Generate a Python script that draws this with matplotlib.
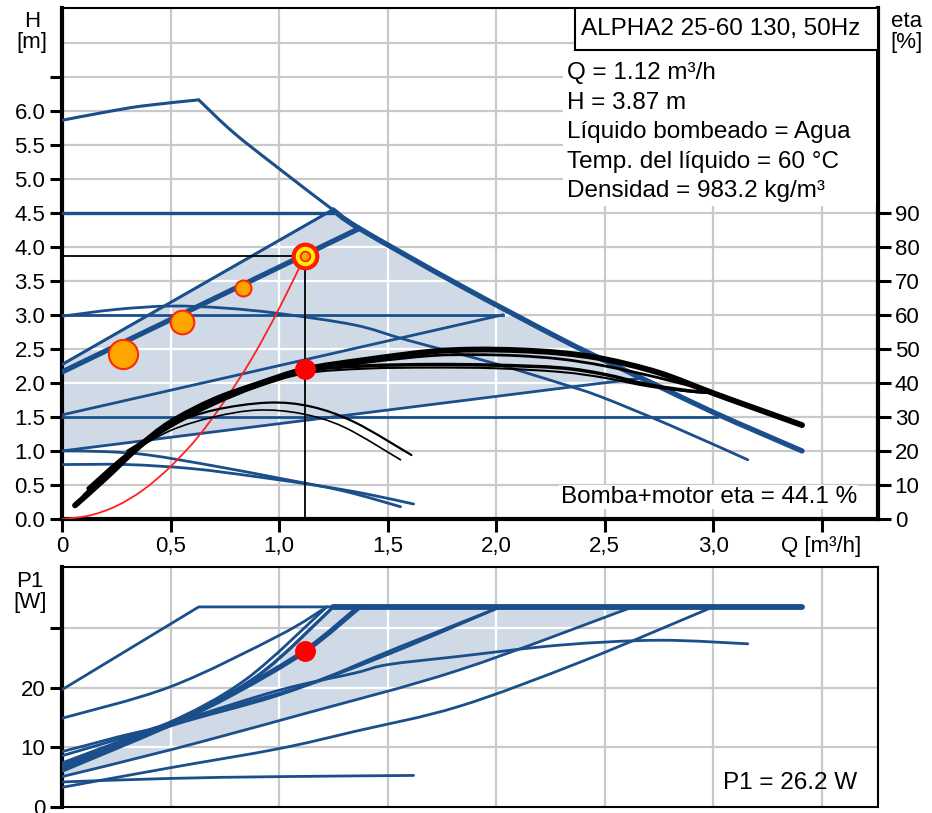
import numpy as np
import matplotlib
matplotlib.use("Agg")
import matplotlib.pyplot as plt
from matplotlib.patches import Rectangle, PathPatch
from matplotlib.path import Path

plt.rcParams['font.family'] = ['Liberation Sans', 'DejaVu Sans']

# ---------------- data (Q in m3/h, H in m, eta in %, P1 in W) ----------------
# constant pressure lines
cp_levels = [4.5, 3.0, 1.5]
cp_ends = [1.25, 2.03, 3.02]
# proportional pressure lines
pp3_q = [0.0, 1.25]
pp3_h = [2.27, 4.55]
op_q = [0.0, 1.37]
op_h = [2.16, 4.27]
pp2_q = [0.0, 2.03]
pp2_h = [1.53, 3.0]
pp1_q = [0.0, 2.67]
pp1_h = [1.0, 2.07]
# speed curves
maxa_q = [0.0, 0.2, 0.37, 0.63]
maxa_h = [5.86, 5.98, 6.07, 6.16]
maxb_q = [0.63, 0.79, 1.0, 1.25, 1.37, 1.83, 2.29, 2.5, 2.75, 3.0, 3.2, 3.41]
maxb_h = [6.16, 5.68, 5.15, 4.54, 4.27, 3.44, 2.66, 2.33, 1.95, 1.57, 1.29, 1.0]
s2_q = [0.0, 0.25, 0.5, 0.75, 1.0, 1.35, 1.59, 2.0, 2.29, 2.48, 2.8, 3.16]
s2_h = [2.98, 3.08, 3.13, 3.1, 3.02, 2.85, 2.63, 2.28, 2.0, 1.8, 1.38, 0.87]
s1a_q = [0.0, 0.3, 0.6, 0.9, 1.2, 1.4, 1.62]
s1a_h = [0.8, 0.8, 0.74, 0.62, 0.48, 0.37, 0.22]
s1b_q = [0.0, 0.2, 0.4, 0.7, 1.0, 1.3, 1.56]
s1b_h = [1.0, 0.99, 0.94, 0.78, 0.6, 0.41, 0.18]
# efficiency curves
e1_q = [0.06, 0.2, 0.35, 0.5, 0.7, 0.9, 1.12, 1.4, 1.7, 1.9, 2.1, 2.3, 2.5, 2.75, 3.0, 3.2, 3.41]
e1_eta = [4, 12, 21, 28.4, 35, 39.6, 44, 46.8, 49.2, 49.8, 49.6, 48.8, 47, 43, 37, 32.4, 27.6]
e2_q = [0.1, 0.3, 0.5, 0.7, 0.9, 1.12, 1.4, 1.7, 1.9, 2.1, 2.3, 2.5, 2.75, 3.0]
e2_eta = [7, 19, 27.8, 34.6, 39.4, 43.2, 46, 48, 48.3, 48, 47, 45, 41.5, 37.4]
e3_q = [0.12, 0.3, 0.5, 0.7, 0.9, 1.12, 1.4, 1.7, 2.0, 2.3, 2.5, 2.7, 2.9, 3.0]
e3_eta = [9, 19, 27.4, 34, 39.2, 43.6, 45, 45.4, 45.2, 44.4, 42.5, 39.5, 37.6, 37.2]
e4_q = [0.15, 0.3, 0.5, 0.7, 0.9, 1.12, 1.4, 1.7, 2.0, 2.3, 2.5, 2.7, 2.9, 3.0]
e4_eta = [10, 18.5, 27, 33.6, 38.8, 42.8, 44.2, 44.5, 44.3, 43.2, 41.5, 39, 37.4, 37]
e5_q = [0.3, 0.5, 0.7, 0.95, 1.15, 1.35, 1.61]
e5_eta = [20, 27.6, 32, 34.2, 33, 28.4, 18.8]
e6_q = [0.3, 0.5, 0.7, 0.9, 1.1, 1.3, 1.56]
e6_eta = [19, 26, 30, 32, 31, 27, 17.4]
# system curve
sys_q = [0.0, 0.125, 0.25, 0.375, 0.5, 0.625, 0.75, 0.875, 1.0, 1.12]
sys_h = [0.0, 0.05, 0.19, 0.43, 0.77, 1.2, 1.74, 2.36, 3.09, 3.87]
# duty points
duty_q = 1.12
duty_h = 3.87
duty_eta = 44.1
duty_p1 = 26.2
dots_q = [0.28, 0.555, 0.834]
dots_h = [2.43, 2.89, 3.39]
# power curves
p_max_q = [0.0, 0.63, 3.41]
p_max_w = [19.7, 33.6, 33.6]
p_b_q = [0.0, 0.5, 1.0, 1.22]
p_b_w = [14.9, 20.2, 28.8, 33.6]
p_s3_q = [0.0, 0.25, 0.5, 0.85, 1.22]
p_s3_w = [9.3, 11.7, 14.3, 21.5, 33.6]
p_pp3_q = [0.0, 0.5, 0.9, 1.25]
p_pp3_w = [6.8, 14.1, 22.0, 33.6]
p_op_q = [0.0, 0.5, 0.8, 1.12, 1.37]
p_op_w = [6.2, 13.9, 19.3, 26.2, 33.6]
p_pp2_q = [0.0, 0.5, 1.1, 1.55, 2.02]
p_pp2_w = [7.4, 14.0, 20.2, 26.8, 33.6]
p_x_q = [0.0, 0.5, 1.0, 1.5, 2.02]
p_x_w = [7.0, 13.6, 18.8, 25.6, 33.6]
p_c_q = [0.0, 0.5, 1.0, 1.35, 1.5, 1.83, 2.3, 2.75, 3.16]
p_c_w = [8.6, 14.0, 19.6, 22.5, 23.9, 25.3, 27.2, 28.0, 27.4]
p_pp1_q = [0.0, 0.5, 1.1, 1.83, 2.63]
p_pp1_w = [5.1, 9.6, 15.5, 23.0, 33.6]
p_s2_q = [0.0, 0.5, 1.0, 1.35, 1.83, 2.4, 3.0]
p_s2_w = [3.3, 6.6, 9.8, 12.7, 16.9, 24.5, 33.6]
p_min_q = [0.0, 0.5, 1.0, 1.62]
p_min_w = [4.2, 4.8, 5.1, 5.3]

BLUE = '#1a4f8b'
FILL = '#cfdae6'
GRID = '#c9c9c9'
FS = 16
TFS = 17.5


def smooth(a, xs, ys, zorder=3, **kw):
    """Draw a smooth (Catmull-Rom as cubic Bezier) line through the points."""
    p = np.column_stack([xs, ys]).astype(float)
    n = len(p)
    if n < 3:
        a.plot(xs, ys, zorder=zorder, solid_capstyle='round', **kw)
        return
    verts = [p[0]]
    codes = [Path.MOVETO]
    for i in range(n - 1):
        p0 = p[i - 1] if i > 0 else p[i]
        p3 = p[i + 2] if i + 2 < n else p[i + 1]
        c1 = p[i] + (p[i + 1] - p0) / 6.0
        c2 = p[i + 1] - (p3 - p[i]) / 6.0
        verts += [c1, c2, p[i + 1]]
        codes += [Path.CURVE4] * 3
    patch = PathPatch(Path(verts, codes), fill=False, edgecolor=kw.get('color'),
                      lw=kw.get('lw', 1.5), zorder=zorder, capstyle='round', joinstyle='round')
    a.add_patch(patch)


fig = plt.figure(figsize=(9.32, 8.13), dpi=100)
W, Hh = 932, 813
ax = fig.add_axes([62 / W, 1 - 519 / Hh, 816 / W, 511 / Hh])
axp = fig.add_axes([62 / W, 1 - 807 / Hh, 816 / W, 240 / Hh])

XMAX = 3.76
ax.set_xlim(0, XMAX)
ax.set_ylim(0, 7.51)
axp.set_xlim(0, XMAX)
axp.set_ylim(0, 40.3)

xgrid = np.arange(0.5, 3.51, 0.5)
hgrid = np.arange(0.5, 7.01, 0.5)
pgrid = [10, 20, 30]


def draw_grid(a, xs, ys, color, zorder, clip=None):
    arts = []
    for x in xs:
        arts.append(a.axvline(x, color=color, lw=1.6, zorder=zorder))
    for y in ys:
        arts.append(a.axhline(y, color=color, lw=1.6, zorder=zorder))
    if clip is not None:
        for l in arts:
            l.set_clip_path(clip)


def shaded(a, xg, up, lo, valid):
    xs = np.concatenate([xg[valid], xg[valid][::-1]])
    ys = np.concatenate([up[valid], lo[valid][::-1]])
    return a.fill(xs, ys, color=FILL, lw=0, zorder=1)[0]


# ---------------- upper (QH) panel ----------------
draw_grid(ax, xgrid, hgrid, GRID, 0)
xg = np.linspace(0, 3.2, 1200)
up = np.where(xg <= pp3_q[-1], np.interp(xg, pp3_q, pp3_h), np.interp(xg, maxb_q, maxb_h))
lo = np.interp(xg, pp1_q, pp1_h)
valid = (xg <= pp1_q[-1]) & (up >= lo)
poly = shaded(ax, xg, up, lo, valid)
draw_grid(ax, xgrid, hgrid, 'white', 1.5, clip=poly)

for lev, end in zip(cp_levels, cp_ends):
    ax.plot([0, end], [lev, lev], color=BLUE, lw=2.4 if lev == 4.5 else 2.0, zorder=3)
ax.plot(pp3_q, pp3_h, color=BLUE, lw=2.2, zorder=3)
ax.plot(pp2_q, pp2_h, color=BLUE, lw=2.0, zorder=3)
ax.plot(pp1_q, pp1_h, color=BLUE, lw=2.0, zorder=3)
ax.plot(op_q, op_h, color=BLUE, lw=3.8, zorder=3, solid_capstyle='round')
smooth(ax, maxa_q, maxa_h, color=BLUE, lw=2.2)
mq = np.array(maxb_q); mh = np.array(maxb_h)
smooth(ax, mq[mq <= 1.37], mh[mq <= 1.37], color=BLUE, lw=2.2)
smooth(ax, mq[mq >= 1.25], mh[mq >= 1.25], color=BLUE, lw=3.8)
smooth(ax, s2_q, s2_h, color=BLUE, lw=2.0)
smooth(ax, s1a_q, s1a_h, color=BLUE, lw=2.0)
smooth(ax, s1b_q, s1b_h, color=BLUE, lw=2.0)

smooth(ax, sys_q, sys_h, color='#ff2020', lw=1.3, zorder=4)
ax.plot([0, duty_q], [duty_h, duty_h], color='black', lw=1.3, zorder=4)
ax.plot([duty_q, duty_q], [0, duty_h], color='black', lw=1.3, zorder=4)
for q, h, ms in zip(dots_q, dots_h, [21, 17, 11.5]):
    ax.plot(q, h, 'o', ms=ms, mfc='#ffa500', mec='#ff2a00', mew=1.5, zorder=5)
ax.plot(duty_q, duty_h, 'o', ms=17, mfc='#ffee00', mec='#ff1a00', mew=3, zorder=5)
ax.plot(duty_q, duty_h, 'o', ms=7, mfc='#ffa500', mec='#ff1a00', mew=1.2, zorder=6)

# ticks
ax.set_xticks(np.arange(0, 3.51, 0.5))
ax.set_xticklabels(['0', '0,5', '1,0', '1,5', '2,0', '2,5', '3,0', 'Q [m³/h]'])
ax.set_yticks(np.arange(0, 6.51, 0.5))
ax.set_yticklabels([f'{v:.1f}' for v in np.arange(0, 6.01, 0.5)] + [''])
ax.tick_params(axis='both', direction='out', length=9, width=2.2, labelsize=FS, pad=3)
for s in ['left', 'bottom', 'right']:
    ax.spines[s].set_linewidth(3)
ax.spines['top'].set_linewidth(1.5)

# efficiency axis
ax2 = ax.twinx()
ax2.set_ylim(0, 7.51 * 20)
ax2.patch.set_visible(False)
ax2.set_yticks(np.arange(0, 91, 10))
ax2.tick_params(axis='y', direction='out', length=9, width=2.2, labelsize=FS, pad=3)
for s in ax2.spines.values():
    s.set_visible(False)
smooth(ax2, e5_q, e5_eta, color='black', lw=1.6)
smooth(ax2, e6_q, e6_eta, color='black', lw=1.2)
smooth(ax2, e4_q, e4_eta, color='black', lw=1.5)
smooth(ax2, e3_q, e3_eta, color='black', lw=2.5)
smooth(ax2, e2_q, e2_eta, color='black', lw=2.0)
smooth(ax2, e1_q, e1_eta, color='black', lw=4.2)
ax2.plot(duty_q, duty_eta, 'o', ms=14, color='#ff0000', zorder=5)

# text boxes
ax2.add_patch(Rectangle((0.629, 0.918), 0.371, 0.082, transform=ax2.transAxes,
                        facecolor='white', edgecolor='black', lw=1.5, zorder=10))
ax2.text(0.636, 0.959, 'ALPHA2 25-60 130, 50Hz', transform=ax2.transAxes,
         fontsize=TFS, va='center', ha='left', zorder=11)
ax2.add_patch(Rectangle((0.614, 0.613), 0.384, 0.305, transform=ax2.transAxes,
                        facecolor='white', edgecolor='none', zorder=9))
info = ['Q = 1.12 m³/h', 'H = 3.87 m', 'Líquido bombeado = Agua',
        'Temp. del líquido = 60 °C', 'Densidad = 983.2 kg/m³']
for i, t in enumerate(info):
    ax2.text(0.619, (519 - (73 + 29.6 * i)) / 511, t, transform=ax2.transAxes,
             fontsize=TFS, va='center', ha='left', zorder=11)
ax2.text(0.974, 0.043, 'Bomba+motor eta = 44.1 %', transform=ax2.transAxes,
         fontsize=TFS, va='center', ha='right', zorder=11,
         bbox=dict(facecolor='white', edgecolor='none', pad=1))

# ---------------- lower (P1) panel ----------------
draw_grid(axp, xgrid, pgrid, GRID, 0)
xg2 = np.linspace(0, 3.0, 1200)
up2 = np.where(xg2 <= p_pp3_q[-1], np.interp(xg2, p_pp3_q, p_pp3_w), p_max_w[-1])
lo2 = np.interp(xg2, p_pp1_q, p_pp1_w)
valid2 = (xg2 <= p_pp1_q[-1]) & (up2 >= lo2)
poly2 = shaded(axp, xg2, up2, lo2, valid2)
draw_grid(axp, xgrid, pgrid, 'white', 1.5, clip=poly2)

axp.plot(p_max_q, p_max_w, color=BLUE, lw=2.0, zorder=3)
axp.plot([1.25, p_max_q[-1]], [p_max_w[-1], p_max_w[-1]], color=BLUE, lw=4.2, zorder=3,
         solid_capstyle='round')
smooth(axp, p_b_q, p_b_w, color=BLUE, lw=2.0)
smooth(axp, p_s3_q, p_s3_w, color=BLUE, lw=2.0)
smooth(axp, p_pp3_q, p_pp3_w, color=BLUE, lw=2.4)
smooth(axp, p_op_q, p_op_w, color=BLUE, lw=3.8)
smooth(axp, p_pp2_q, p_pp2_w, color=BLUE, lw=2.0)
smooth(axp, p_x_q, p_x_w, color=BLUE, lw=2.0)
smooth(axp, p_c_q, p_c_w, color=BLUE, lw=2.0)
smooth(axp, p_pp1_q, p_pp1_w, color=BLUE, lw=2.0)
smooth(axp, p_s2_q, p_s2_w, color=BLUE, lw=2.0)
smooth(axp, p_min_q, p_min_w, color=BLUE, lw=2.0)
axp.plot(duty_q, duty_p1, 'o', ms=14, color='#ff0000', zorder=5)

axp.set_xticks([])
axp.set_yticks([0, 10, 20, 30])
axp.set_yticklabels(['0', '10', '20', ''])
axp.tick_params(axis='y', direction='out', length=9, width=2.2, labelsize=FS, pad=3)
axp.spines['left'].set_linewidth(3)
for s in ['top', 'right', 'bottom']:
    axp.spines[s].set_linewidth(1.5)
axp.text(0.974, 0.1, 'P1 = 26.2 W', transform=axp.transAxes, fontsize=TFS,
         va='center', ha='right', zorder=11)

# axis titles
fig.text(32 / W, 1 - 32 / Hh, 'H\n[m]', ha='center', va='center', fontsize=FS, linespacing=1.0)
fig.text(907 / W, 1 - 32 / Hh, 'eta\n[%]', ha='center', va='center', fontsize=FS, linespacing=1.0)
fig.text(30 / W, 1 - 592 / Hh, 'P1\n[W]', ha='center', va='center', fontsize=FS, linespacing=1.0)

fig.savefig('out.png', dpi=100)
